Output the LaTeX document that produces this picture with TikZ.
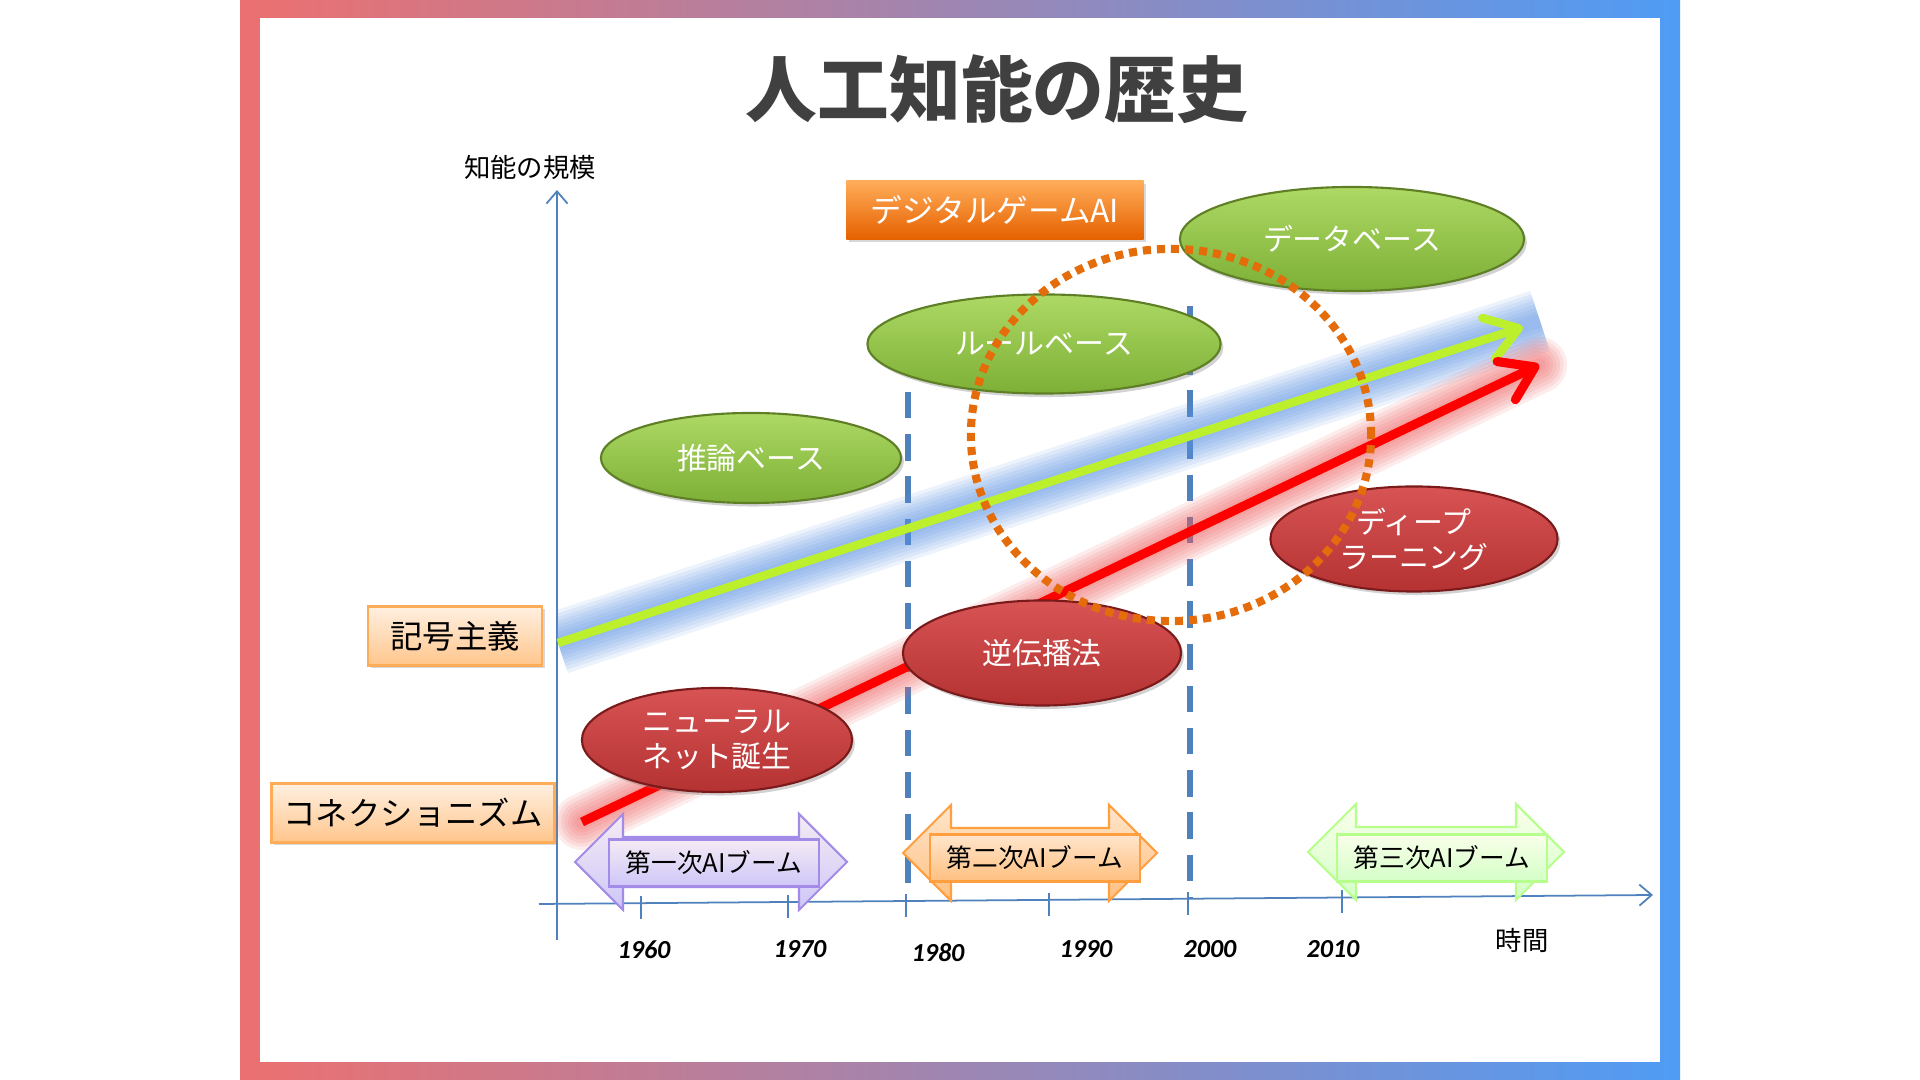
\documentclass[tikz,border=0pt]{standalone}
\usepackage{fontspec}
\setmainfont{Noto Sans CJK JP}
\newfontfamily\yearfont{Carlito}
\usetikzlibrary{shapes.geometric,arrows.meta,shadows}
\definecolor{framered}{HTML}{EC7070}
\definecolor{framemid}{HTML}{A38CCB}
\definecolor{frameblue}{HTML}{4F9CF5}
\definecolor{titlegray}{HTML}{404040}
\definecolor{axisblue}{HTML}{4F81BD}
\definecolor{glowblue}{HTML}{5B95E5}
\definecolor{glowred}{HTML}{F05A5A}
\definecolor{symgreen}{HTML}{BCF02C}
\definecolor{conred}{HTML}{FF0000}
\definecolor{ringorange}{HTML}{E46C0A}
\definecolor{ellgreentop}{HTML}{ADD964}
\definecolor{ellgreenbot}{HTML}{7DAF36}
\definecolor{ellgreenrim}{HTML}{5E7F25}
\definecolor{ellredtop}{HTML}{D85454}
\definecolor{ellredbot}{HTML}{B53232}
\definecolor{ellredrim}{HTML}{7A1A1A}
\tikzset{
  axisarrow/.style={draw=axisblue, line width=0.5pt, -{Straight Barb[length=3.5pt,width=6pt]}},
  tickline/.style={draw=axisblue, line width=0.5pt},
  eradash/.style={draw=axisblue, line width=1.6pt, dash pattern=on 7.5pt off 4.5pt},
  glowband/.style={draw opacity=0.11},
  greenarrow/.style={draw=symgreen, line width=2.4pt, -{Straight Barb[length=9pt,width=12pt,round]}},
  redarrow/.style={draw=conred, line width=2.6pt, -{Straight Barb[length=9pt,width=12pt,round]}},
  ellbase/.style={ellipse, inner sep=0pt, line width=0.6pt, text=white, font=\fontsize{8.5}{9.9}\selectfont, align=center, drop shadow={opacity=0.35, shadow xshift=0.8pt, shadow yshift=-1pt}},
  greenell/.style={ellbase, draw=ellgreenrim, top color=ellgreentop, bottom color=ellgreenbot},
  redell/.style={ellbase, draw=ellredrim, top color=ellredtop, bottom color=ellredbot},
  gamebox/.style={inner sep=0pt, text=white, font=\fontsize{9}{11}\selectfont, top color=orange!65!white, bottom color=orange!85!red!90!black, drop shadow={opacity=0.3, shadow xshift=0.8pt, shadow yshift=-0.8pt}},
  peachbox/.style={draw=orange!65!white, line width=0.8pt, inner sep=0pt, font=\fontsize{9.2}{11}\selectfont, top color=orange!12!white, bottom color=orange!45!white, drop shadow={opacity=0.3, shadow xshift=0.8pt, shadow yshift=-0.8pt}},
  boomlabel/.style={draw, line width=0.6pt, inner sep=0pt, minimum width=2.10cm, minimum height=0.47cm, font=\fontsize{7.3}{9}\selectfont},
  purpleboom/.style={draw=violet!40!blue!45!white, line width=0.6pt, top color=violet!8!white, bottom color=violet!25!blue!22!white},
  orangeboom/.style={draw=orange!75!white, line width=0.6pt, top color=orange!20!white, bottom color=orange!50!white},
  greenboom/.style={draw=lime!50!green!45!white, line width=0.6pt, top color=lime!8!white, bottom color=lime!30!green!22!white},
  yearlabel/.style={font=\yearfont\bfseries\itshape\fontsize{7.4}{9}\selectfont},
  axislabel/.style={font=\fontsize{7.5}{9}\selectfont},
  titletext/.style={text=titlegray, font=\bfseries\fontsize{20.4}{24}\selectfont},
  dotring/.style={ellipse, draw=ringorange, line width=2.3pt, dash pattern=on 2.3pt off 1.7pt, inner sep=0pt}
}
\newcommand{\boomarrow}[4]{%
  \draw[#1] (#2-#4,#3) -- (#2-#4+48,#3-48) -- (#2-#4+48,#3-25) -- (#2+#4-48,#3-25) -- (#2+#4-48,#3-48) -- (#2+#4,#3)
    -- (#2+#4-48,#3+48) -- (#2+#4-48,#3+25) -- (#2-#4+48,#3+25) -- (#2-#4+48,#3+48) -- cycle;}

\begin{document}
\begin{tikzpicture}[x=0.01cm, y=-0.01cm]
\useasboundingbox (0,0) rectangle (1920,1080);
\fill[left color=framered, middle color=framemid, right color=frameblue] (240,0) rectangle (1680,1080);
\fill[white] (260,18) rectangle (1660,1062);

\node[titletext] (title) at (997,89) {人工知能の歴史};

\coordinate (yaxisbottom) at (557,940);
\coordinate (yaxistop) at (557,190);
\coordinate (xaxisleft) at (539,904);
\coordinate (xaxisright) at (1653,895);
\draw[axisarrow] (yaxisbottom) -- (yaxistop);
\draw[axisarrow] (xaxisleft) -- (xaxisright);
\foreach \tx/\ty in {641/903, 788/902, 906/901, 1049/900, 1188/899, 1342/897}
  \draw[tickline] (\tx,\ty-7) -- (\tx,\ty+16);
\node[axislabel] (scalelabel) at (530,167) {知能の規模};
\node[axislabel] (timelabel) at (1522,940) {時間};
\node[yearlabel] (y1960) at (644,950) {1960};
\node[yearlabel] (y1970) at (800,949) {1970};
\node[yearlabel] (y1980) at (938,953) {1980};
\node[yearlabel] (y1990) at (1086,949) {1990};
\node[yearlabel] (y2000) at (1210,949) {2000};
\node[yearlabel] (y2010) at (1333,949) {2010};

\coordinate (eraonetop) at (908,392);
\coordinate (eraonebottom) at (908,898);
\coordinate (eratwotop) at (1190,306);
\coordinate (eratwobottom) at (1190,897);
\draw[eradash] (eraonetop) -- (eraonebottom);
\draw[eradash] (eratwotop) -- (eratwobottom);

\coordinate (symstart) at (558,643);
\coordinate (symend) at (1523,327);
\coordinate (symglowend) at (1540,321);
\coordinate (constart) at (582,822);
\coordinate (conend) at (1539,365);
\begin{scope}
\clip (557,150) rectangle (1660,1062);
\foreach \w in {4,6,...,18}
  \draw[glowband, draw=glowblue, line width=\w pt] (symstart) -- (symglowend);
\end{scope}
\foreach \w in {4,6,...,17}
  \draw[glowband, draw=glowred, line width=\w pt, line cap=round] (constart) -- (conend);
\draw[greenarrow] (symstart) -- (symend);
\draw[redarrow] (constart) -- (conend);

\node[greenell, minimum width=3.00cm, minimum height=0.90cm] (inference) at (751,458) {推論ベース};
\node[greenell, minimum width=3.53cm, minimum height=0.99cm] (rulebase) at (1044,344) {ルールベース};
\node[greenell, minimum width=3.44cm, minimum height=1.04cm] (database) at (1352,239) {データベース};
\node[redell, minimum width=2.70cm, minimum height=1.04cm] (neuralnet) at (717,740) {ニューラル\\ネット誕生};
\node[redell, minimum width=2.78cm, minimum height=1.05cm] (backprop) at (1042,653) {逆伝播法};
\node[redell, minimum width=2.87cm, minimum height=1.05cm] (deeplearn) at (1414,539) {ディープ\\ラーニング};

\node[gamebox, minimum width=2.97cm, minimum height=0.58cm] (gameai) at (995,210) {デジタルゲームAI};
\node[peachbox, minimum width=1.74cm, minimum height=0.59cm] (symbolism) at (455,636) {記号主義};
\node[peachbox, minimum width=2.83cm, minimum height=0.59cm] (connectionism) at (413,813) {コネクショニズム};

\boomarrow{purpleboom}{711}{862}{136}
\node[boomlabel, purpleboom] (boomone) at (714,863) {第一次AIブーム};
\boomarrow{orangeboom}{1030}{853}{127}
\node[boomlabel, orangeboom] (boomtwo) at (1035,858) {第二次AIブーム};
\boomarrow{greenboom}{1436}{852}{128}
\node[boomlabel, greenboom] (boomthree) at (1442,858) {第三次AIブーム};

\node[dotring, minimum width=4.00cm, minimum height=3.72cm] (gamescope) at (1171,435) {};
\end{tikzpicture}
\end{document}
